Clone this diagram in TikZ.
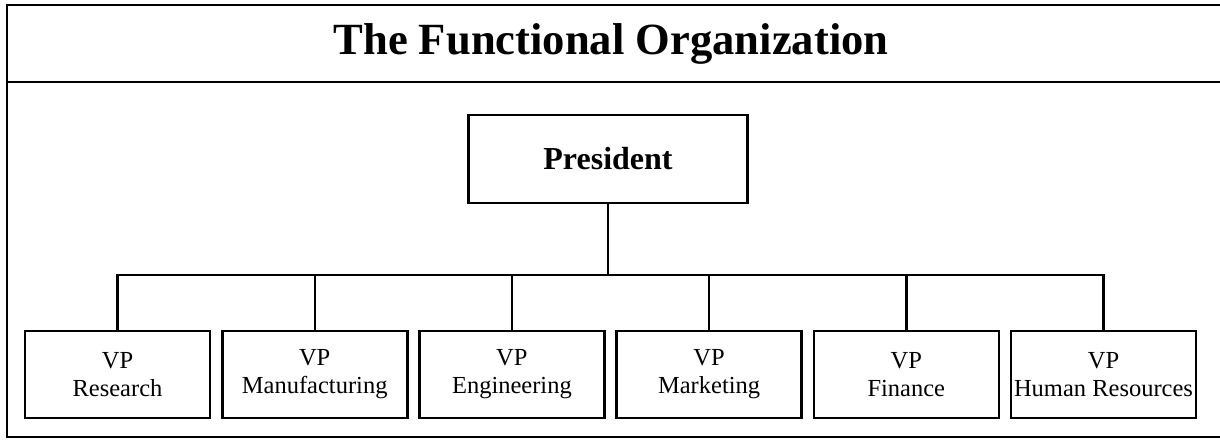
\documentclass[tikz,border=0pt]{standalone}
\usepackage{fontspec}
\setmainfont{Liberation Serif}
\usepackage{tikz}
\usetikzlibrary{positioning}
\tikzset{
    frame/.style={draw, line width=2.6pt, line cap=rect},
    topbox/.style={draw, line width=2.6pt, minimum width=279pt, minimum height=88pt, inner sep=0pt, font=\fontsize{32}{36}\selectfont\bfseries},
    vpbox/.style={draw, line width=2.6pt, minimum width=185pt, minimum height=87pt, inner sep=0pt, align=center, font=\fontsize{24.5}{28}\selectfont},
    link/.style={draw, line width=2.4pt}
}

\begin{document}
\begin{tikzpicture}[x=1pt, y=-1pt]
    \useasboundingbox (0, 0) rectangle (1220, 439);

    % outer frame, open on the right
    \draw[frame] (1220, 5) -- (7, 5) -- (7, 437) -- (1220, 437);
    \draw[frame] (7, 82) -- (1220, 82);

    \node (title) at (611, 44) {\fontsize{44.6}{50}\selectfont\bfseries The Functional Organization};

    \node (pres) [topbox] at (608, 159) {President};

    \node (vp1) [vpbox] at (117.5, 374.5) {VP\\Research};
    \node (vp2) [vpbox] at (314.7, 374.5) {VP\\Manufacturing};
    \node (vp3) [vpbox] at (511.9, 374.5) {VP\\Engineering};
    \node (vp4) [vpbox] at (709.1, 374.5) {VP\\Marketing};
    \node (vp5) [vpbox] at (906.3, 374.5) {VP\\Finance};
    \node (vp6) [vpbox] at (1103.5, 374.5) {VP\\Human Resources};

    \coordinate (bar) at (608, 275);

    % president down to the bar, then to each VP
    \draw[link] (pres.south) -- (bar);
    \draw[link] (bar) -| (vp1.north);
    \draw[link] (bar) -| (vp2.north);
    \draw[link] (bar) -| (vp3.north);
    \draw[link] (bar) -| (vp4.north);
    \draw[link] (bar) -| (vp5.north);
    \draw[link] (bar) -| (vp6.north);
\end{tikzpicture}
\end{document}
